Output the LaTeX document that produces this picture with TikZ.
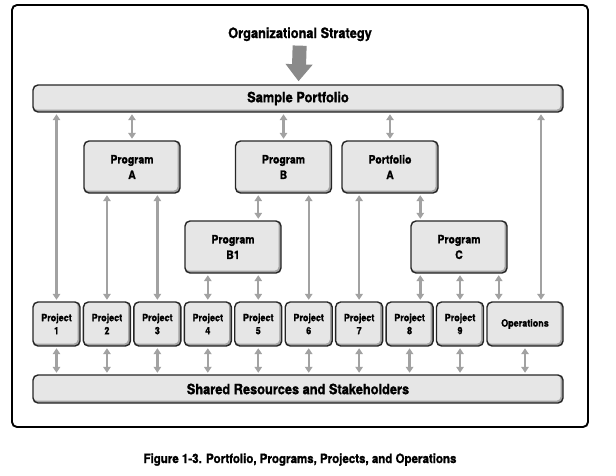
\documentclass[tikz,border=0pt]{standalone}
\usepackage{fontspec}
\setmainfont{TeX Gyre Heros}[FakeStretch=0.9, FakeBold=1.2]
\usetikzlibrary{arrows.meta}
\definecolor{boxfill}{HTML}{E6E6E6}
\definecolor{boxshade}{HTML}{A3A3A3}
\definecolor{linkgray}{HTML}{A2A2A2}
\definecolor{bigarrow}{HTML}{8A8A8A}
\begin{document}
\begin{tikzpicture}[x=1pt, y=-1pt,
  box/.style={draw=black!85, line width=1.4pt, rounded corners=5pt, fill=boxshade,
    inner sep=0pt, align=center, font=\fontsize{11.6}{15.5}\selectfont\bfseries,
    path picture={\fill[boxfill, rounded corners=4pt] (path picture bounding box.north west)
      rectangle ([shift={(-2.4pt,2.4pt)}]path picture bounding box.south east);}},
  prgbox/.style={box, minimum width=96pt, minimum height=52pt},
  prjbox/.style={box, minimum width=47pt, minimum height=44pt,
    font=\fontsize{10}{13}\selectfont\bfseries},
  bar/.style={box, minimum width=530pt, minimum height=27pt,
    font=\fontsize{14.2}{16}\selectfont\bfseries},
  link/.style={draw=linkgray, line width=2.4pt,
    {Triangle[width=7.5pt,length=6pt]}-{Triangle[width=7.5pt,length=6pt]},
    shorten <=1.5pt, shorten >=1.5pt}]
\useasboundingbox (0,0) rectangle (616,475);
\draw[line width=1.9pt, rounded corners=5pt] (12,5) rectangle (588,427);
% strategy and portfolio
\node[anchor=base, font=\fontsize{14.2}{16}\selectfont\bfseries] (strat) at (300,38) {Organizational Strategy};
\node[bar] (port) at (298,98.5) {Sample Portfolio};
\draw[bigarrow, line width=14pt, -{Triangle[width=26pt,length=17pt]}, shorten <=1pt, shorten >=3pt] (strat) -- (port);
% programs
\node[prgbox] (prgA) at (132,167) {Program\\A};
\node[prgbox] (prgB) at (283.5,167) {Program\\B};
\node[prgbox] (pfA) at (390,167) {Portfolio\\A};
\node[prgbox] (prgBa) at (233,247) {Program\\B1};
\node[prgbox] (prgC) at (459,247) {Program\\C};
% projects
\foreach \i in {1,...,9}
  \node[prjbox] (prj\i) at ({6.06+50.44*\i},324) {Project\\\i};
\node[prjbox, minimum width=76pt] (ops) at (525,324) {Operations};
\node[bar, minimum height=28pt] (shared) at (298,389) {Shared Resources and Stakeholders};
\coordinate (opsR) at ([xshift=16pt]ops.north);
\coordinate (cL) at ([xshift=10pt]prgC.south west);
\coordinate (cR) at ([xshift=-9pt]prgC.south east);
% links
\draw[link] (port.south -| prj1) -- (prj1.north);
\draw[link] (port.south -| prgA) -- (prgA.north);
\draw[link] (port.south -| prgB) -- (prgB.north);
\draw[link] (port.south -| pfA) -- (pfA.north);
\draw[link] (port.south -| opsR) -- (opsR);
\draw[link] (prgA.south -| prj2) -- (prj2.north);
\draw[link] (prgA.south -| prj3) -- (prj3.north);
\draw[link] (prgB.south -| prj5) -- (prgBa.north -| prj5);
\draw[link] (prgB.south -| prj6) -- (prj6.north);
\draw[link] (prgBa.south -| prj4) -- (prj4.north);
\draw[link] (prgBa.south -| prj5) -- (prj5.north);
\draw[link] (pfA.south -| prj7) -- (prj7.north);
\draw[link] (pfA.south -| cL) -- (prgC.north -| cL);
\draw[link] (cL) -- (prj8.north -| cL);
\draw[link] (prgC.south -| prj9) -- (prj9.north);
\draw[link] (cR) -- (ops.north -| cR);
\foreach \i in {1,...,9}
  \draw[link] (prj\i.south) -- (shared.north -| prj\i);
\draw[link] (ops.south) -- (shared.north -| ops);
% caption
\node[anchor=base, font=\fontsize{12.8}{14}\selectfont\bfseries] (caption) at (300,463) {Figure 1-3. Portfolio, Programs, Projects, and Operations};
\end{tikzpicture}
\end{document}
